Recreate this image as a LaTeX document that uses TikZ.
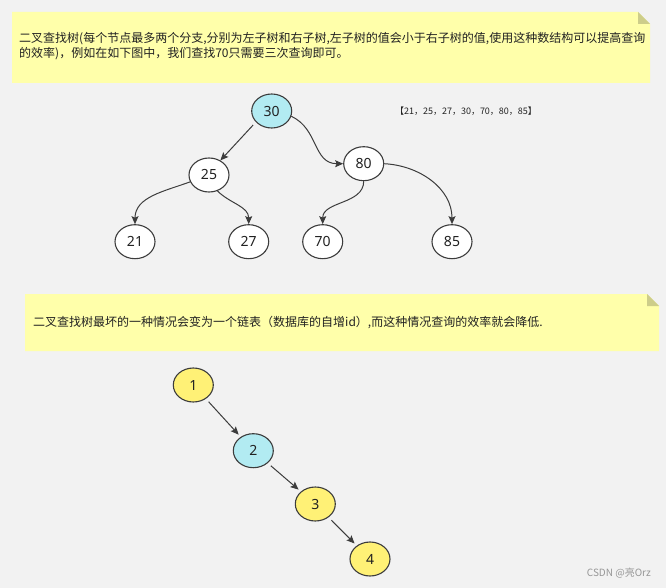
\documentclass[tikz,border=0pt]{standalone}
\usepackage{fontspec}
\setmainfont{Noto Sans}
\newfontfamily\cjk{Noto Sans CJK SC}
\usetikzlibrary{shapes.geometric,arrows.meta}
\definecolor{bgc}{RGB}{242,242,242}
\definecolor{notefill}{RGB}{255,255,170}
\definecolor{foldc}{RGB}{205,205,138}
\definecolor{cyanfill}{RGB}{178,235,242}
\definecolor{yelfill}{RGB}{255,241,118}
\definecolor{linec}{RGB}{60,60,60}
\definecolor{txtc}{RGB}{34,34,34}
\tikzset{
  tnode/.style={ellipse,draw=linec,line width=1.1pt,fill=white,minimum width=40pt,minimum height=34pt,inner sep=0pt,font=\fontsize{14}{16}\selectfont,text=txtc},
  cnode/.style={tnode,fill=cyanfill},
  ynode/.style={tnode,fill=yelfill},
  arr/.style={draw=linec,line width=1pt,-{Stealth[length=8pt,width=7pt,inset=1.5pt]}},
  notetext/.style={anchor=west,inner sep=0pt,text=txtc,font=\cjk\fontsize{12}{14.5}\selectfont,align=left}
}
\begin{document}
\begin{tikzpicture}[x=1pt,y=-1pt]
\path[use as bounding box,fill=bgc] (0,0) rectangle (666,588);
% note 1
\fill[notefill] (12,12) -- (638,12) -- (650,24) -- (650,83) -- (12,83) -- cycle;
\fill[foldc] (638,12) -- (650,24) -- (638,24) -- cycle;
\node[notetext] (t1) at (19,46) {二叉查找树(每个节点最多两个分支,分别为左子树和右子树,左子树的值会小于右子树的值,使用这种数结构可以提高查询\\的效率)，例如在如下图中，我们查找70只需要三次查询即可。};
% tree
\node[cnode] (n30) at (271.7,111) {30};
\node[tnode] (n25) at (209,175) {25};
\node[tnode] (n80) at (363.7,163.7) {80};
\node[tnode] (n21) at (135,241.7) {21};
\node[tnode] (n27) at (248.7,241.7) {27};
\node[tnode] (n70) at (322.7,241.7) {70};
\node[tnode] (n85) at (452,241.7) {85};
\node[inner sep=0pt,text=txtc,font=\cjk\fontsize{9}{10}\selectfont] (lst) at (466,111) {【21，25，27，30，70，80，85】};
\draw[arr,shorten <=4pt] (n30.215) -- (n25.52);
\draw[arr] (n30.-15) to[out=-25,in=180,looseness=1.1] (n80.west);
\draw[arr] (n25.200) to[out=200,in=90] (n21.north);
\draw[arr] (n25.-62) to[out=-45,in=90] (n27.north);
\draw[arr] (n80.south) to[out=-90,in=90] (n70.north);
\draw[arr] (n80.east) to[out=-3,in=90] (n85.north);
% note 2
\fill[notefill] (25,294) -- (647,294) -- (659,306) -- (659,351) -- (25,351) -- cycle;
\fill[foldc] (647,294) -- (659,306) -- (647,306) -- cycle;
\node[notetext] (t2) at (33,323) {二叉查找树最坏的一种情况会变为一个链表（数据库的自增id）,而这种情况查询的效率就会降低.};
% list
\node[ynode] (m1) at (193.3,385) {1};
\node[cnode] (m2) at (253.3,450.7) {2};
\node[ynode] (m3) at (315.3,504) {3};
\node[ynode] (m4) at (370,559) {4};
\draw[arr,shorten <=4pt,shorten >=3pt] (m1) -- (m2);
\draw[arr,shorten <=4pt,shorten >=3pt] (m2) -- (m3);
\draw[arr,shorten <=4pt,shorten >=3pt] (m3) -- (m4);
% watermark
\node[anchor=east,inner sep=0pt,text={rgb,255:red,150;green,150;blue,150},font=\cjk\fontsize{10}{12}\selectfont] (wm) at (651,573) {CSDN @亮Orz};
\end{tikzpicture}
\end{document}
